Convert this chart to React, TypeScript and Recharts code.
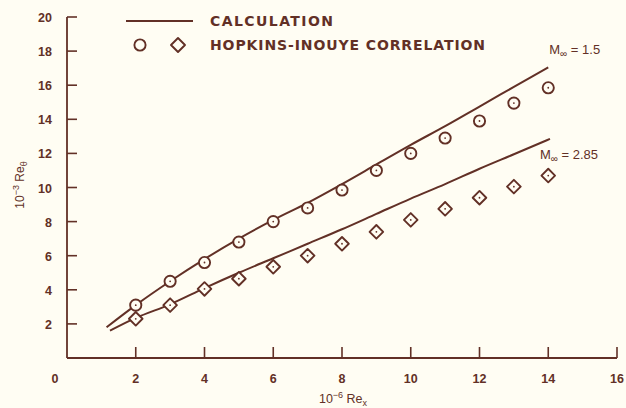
import React from "react";
import {
  ComposedChart,
  Line,
  Scatter,
  XAxis,
  YAxis,
  Label,
  LabelList,
} from "recharts";

// 10^-6 Re_x positions of the correlation points
const reX = [2, 3, 4, 5, 6, 7, 8, 9, 10, 11, 12, 13, 14];
// Hopkins-Inouye correlation, 10^-3 Re_theta
const hopkinsM15 = [3.1, 4.5, 5.6, 6.8, 8.0, 8.8, 9.85, 11.0, 12.0, 12.9, 13.9, 14.95, 15.85];
const hopkinsM285 = [2.3, 3.1, 4.05, 4.65, 5.35, 6.0, 6.7, 7.4, 8.1, 8.75, 9.4, 10.05, 10.7];

// calculation curves
const calcX15 = [1.15, 2, 3, 4, 5, 6, 7, 8, 9, 10, 11, 12, 13, 14];
const calcM15 = [1.8, 3.1, 4.5, 5.8, 7.0, 8.1, 9.1, 10.2, 11.35, 12.5, 13.6, 14.75, 15.9, 17.05];
const calcX285 = [1.25, 2, 3, 4, 5, 6, 7, 8, 9, 10, 11, 12, 13, 14.05];
const calcM285 = [1.6, 2.35, 3.15, 4.1, 5.0, 5.85, 6.7, 7.55, 8.45, 9.35, 10.2, 11.1, 11.95, 12.85];

const xTicks = [0, 2, 4, 6, 8, 10, 12, 14, 16];
const yTicks = [0, 2, 4, 6, 8, 10, 12, 14, 16, 18, 20];

const W = 626;
const H = 408;
const INK = "#623026";
const BG = "#fffdf3";
const FONT = "'Liberation Sans', Arial, sans-serif";
const LEGEND_FONT = "'DejaVu Sans', sans-serif";
const margin = { top: 17, right: 9, bottom: 0, left: 0 };
const Y_AXIS_W = 67;
const X_AXIS_H = 50;
const PLOT_LEFT = margin.left + Y_AXIS_W;
const PLOT_BOTTOM = H - margin.bottom - X_AXIS_H;

const zip = (xs: number[], ys: number[]) => xs.map((x, i) => ({ x, y: ys[i] }));

const calc15 = zip(calcX15, calcM15);
const calc285 = zip(calcX285, calcM285);
const pts15 = zip(reX, hopkinsM15);
const pts285 = zip(reX, hopkinsM285);

const XTick = (props: any) => {
  const { x, payload } = props;
  const v = payload.value;
  return (
    <g>
      {v !== 0 && (
        <line x1={x} x2={x} y1={PLOT_BOTTOM} y2={PLOT_BOTTOM - 11} stroke={INK} strokeWidth={1.6} />
      )}
      <text x={v === 0 ? x - 12 : x} y={PLOT_BOTTOM + 25} textAnchor="middle" fill={INK} fontSize={12.5} fontWeight="bold" fontFamily={FONT}>
        {v}
      </text>
    </g>
  );
};

const YTick = (props: any) => {
  const { y, payload } = props;
  const v = payload.value;
  if (v === 0) return <g />;
  return (
    <g>
      <line x1={PLOT_LEFT} x2={PLOT_LEFT + 10} y1={y} y2={y} stroke={INK} strokeWidth={1.6} />
      <text x={PLOT_LEFT - 15} y={y + 5} textAnchor="end" fill={INK} fontSize={12.5} fontWeight="bold" fontFamily={FONT}>
        {v}
      </text>
    </g>
  );
};

const CircleMark = (props: any) => {
  const { cx, cy } = props;
  return (
    <g>
      <circle cx={cx} cy={cy} r={5.6} fill={BG} stroke={INK} strokeWidth={1.9} />
      <circle cx={cx} cy={cy} r={0.9} fill={INK} />
    </g>
  );
};

const DiamondMark = (props: any) => {
  const { cx, cy } = props;
  const s = 6.8;
  return (
    <g>
      <polygon
        points={`${cx},${cy - s} ${cx + s},${cy} ${cx},${cy + s} ${cx - s},${cy}`}
        fill={BG}
        stroke={INK}
        strokeWidth={1.9}
        strokeLinejoin="round"
      />
      <circle cx={cx} cy={cy} r={0.9} fill={INK} />
    </g>
  );
};

const machLabel = (mach: string, last: number, dx: number, dy: number) => (props: any) => {
  const { x, y, index } = props;
  if (index !== last) return null;
  return (
    <text x={x + dx} y={y + dy} fill={INK} fontSize={13} fontFamily={FONT}>
      M<tspan dy={3} fontSize={10}>∞</tspan>
      <tspan dy={-3}> = {mach}</tspan>
    </text>
  );
};

export default function App() {
  return (
    <div style={{ position: "absolute", left: 0, top: 0, width: W, height: H, background: BG }}>
      <ComposedChart width={W} height={H} margin={margin}>
        <XAxis
          type="number"
          dataKey="x"
          domain={[0, 16]}
          ticks={xTicks}
          height={X_AXIS_H}
          axisLine={{ stroke: INK, strokeWidth: 1.8 }}
          tickLine={false}
          tick={<XTick />}
          allowDataOverflow
        >
          <Label
            content={() => (
              <text x={343} y={403} textAnchor="middle" fill={INK} fontSize={12.5} fontFamily={FONT}>
                10<tspan dy={-5} fontSize={9}>−6</tspan>
                <tspan dy={5}> Re</tspan>
                <tspan dy={3} fontSize={9}>x</tspan>
              </text>
            )}
          />
        </XAxis>
        <YAxis
          type="number"
          domain={[0, 20]}
          ticks={yTicks}
          width={Y_AXIS_W}
          axisLine={{ stroke: INK, strokeWidth: 1.8 }}
          tickLine={false}
          tick={<YTick />}
          allowDataOverflow
        >
          <Label
            content={() => (
              <text transform="translate(24,185) rotate(-90)" textAnchor="middle" fill={INK} fontSize={12} fontFamily={FONT}>
                10<tspan dy={-5} fontSize={9}>−3</tspan>
                <tspan dy={5}> Re</tspan>
                <tspan dy={3} fontSize={9}>θ</tspan>
              </text>
            )}
          />
        </YAxis>
        <Line
          data={calc15}
          dataKey="y"
          type="monotone"
          stroke={INK}
          strokeWidth={2}
          dot={false}
          activeDot={false}
          isAnimationActive={false}
        >
          <LabelList dataKey="y" content={machLabel("1.5", calc15.length - 1, 1, -13)} />
        </Line>
        <Line
          data={calc285}
          dataKey="y"
          type="monotone"
          stroke={INK}
          strokeWidth={2}
          dot={false}
          activeDot={false}
          isAnimationActive={false}
        >
          <LabelList dataKey="y" content={machLabel("2.85", calc285.length - 1, -10, 20)} />
        </Line>
        <Scatter data={pts15} dataKey="y" shape={<CircleMark />} isAnimationActive={false} />
        <Scatter data={pts285} dataKey="y" shape={<DiamondMark />} isAnimationActive={false} />
      </ComposedChart>
      <svg width={W} height={60} style={{ position: "absolute", left: 0, top: 0, pointerEvents: "none" }}>
        <line x1={126} x2={193} y1={21} y2={21} stroke={INK} strokeWidth={2} />
        <text x={210} y={25.5} fill={INK} fontSize={14} fontWeight="bold" fontFamily={LEGEND_FONT} textLength={123} lengthAdjust="spacing">
          CALCULATION
        </text>
        <circle cx={140} cy={45} r={5.6} fill="none" stroke={INK} strokeWidth={1.9} />
        <polygon points="178,38 185,45 178,52 171,45" fill="none" stroke={INK} strokeWidth={1.9} strokeLinejoin="round" />
        <text x={210} y={50} fill={INK} fontSize={14} fontWeight="bold" fontFamily={LEGEND_FONT} textLength={275} lengthAdjust="spacing">
          HOPKINS-INOUYE CORRELATION
        </text>
      </svg>
    </div>
  );
}
